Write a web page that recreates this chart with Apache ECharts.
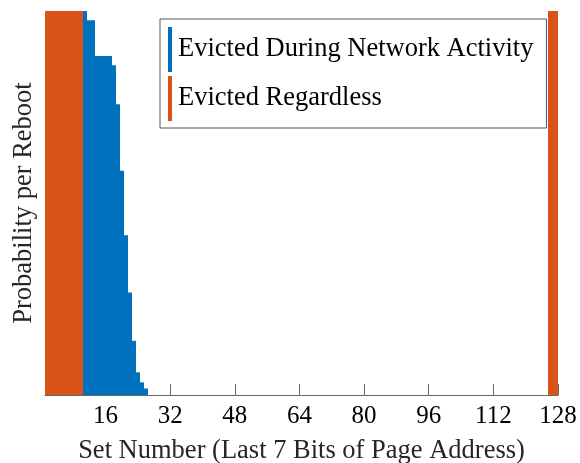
<!DOCTYPE html>
<html>
<head>
<meta charset="utf-8">
<script src="https://cdn.jsdelivr.net/npm/echarts@6/dist/echarts.min.js"></script>
<style>
html,body{margin:0;padding:0;background:#fff;}
#chart{width:580px;height:463px;}
</style>
</head>
<body>
<div id="chart"></div>
<script>
// Data
const blueSets = [11, 12, 13, 14, 15, 16, 17, 18, 19, 20, 21, 22, 23, 24, 25, 26];
const blueValues = [1.0, 0.976, 0.976, 0.883, 0.883, 0.883, 0.883, 0.859, 0.757, 0.584, 0.416, 0.267, 0.141, 0.059, 0.033, 0.017];
const orangeSets = [1, 2, 3, 4, 5, 6, 7, 8, 9, 10, 126, 127, 128];
const orangeValues = [1, 1, 1, 1, 1, 1, 1, 1, 1, 1, 1, 1, 1];
const xTicks = [16, 32, 48, 64, 80, 96, 112, 128];
const seriesNames = ['Evicted During Network Activity', 'Evicted Regardless'];

const FONT = '"Liberation Serif", "Times New Roman", serif';

function renderBar(params, api) {
  const x = api.value(0), y = api.value(1);
  const p0 = api.coord([x - 0.5, y]);
  const p1 = api.coord([x + 0.5, 0]);
  const cs = params.coordSys;
  const x0 = Math.round(p0[0]), x1 = Math.round(p1[0]);
  const r = echarts.graphic.clipRectByRect(
    {x: x0, y: p0[1], width: x1 - x0, height: p1[1] - p0[1]},
    {x: cs.x, y: cs.y, width: cs.width, height: cs.height}
  );
  if (!r) return null;
  return {type: 'rect', shape: r, style: {fill: api.visual('color'), stroke: null}};
}

const chart = echarts.init(document.getElementById('chart'), null, {renderer: 'canvas'});
chart.setOption({
  animation: false,
  backgroundColor: '#fff',
  grid: {left: 45, right: 22, top: 11, bottom: 68, containLabel: false, outerBoundsMode: 'none'},
  legend: {
    orient: 'vertical',
    left: 160, top: 19,
    padding: [8, 13, 7, 8],
    itemGap: 4,
    itemWidth: 4, itemHeight: 45,
    borderColor: '#555', borderWidth: 1,
    backgroundColor: '#fff',
    textStyle: {fontSize: 26.5, fontFamily: FONT, color: '#000', padding: [0, 0, 0, 1]},
    data: [{name: seriesNames[0], icon: 'rect'}, {name: seriesNames[1], icon: 'rect'}]
  },
  xAxis: {
    type: 'value', min: 1, max: 128,
    name: 'Set Number (Last 7 Bits of Page Address)',
    nameLocation: 'middle', nameGap: 43,
    nameTextStyle: {fontSize: 26.5, fontFamily: FONT, color: '#262626'},
    axisLine: {lineStyle: {color: '#666', width: 1}},
    axisTick: {inside: true, length: 11, customValues: xTicks, lineStyle: {color: '#666'}},
    axisLabel: {customValues: xTicks, fontSize: 25, fontFamily: FONT, color: '#000', margin: 9},
    splitLine: {show: false}
  },
  yAxis: {
    type: 'value', min: 0, max: 1,
    name: 'Probability per Reboot',
    nameLocation: 'middle', nameGap: 7,
    nameTextStyle: {fontSize: 26.5, fontFamily: FONT, color: '#262626'},
    axisLine: {show: false}, axisTick: {show: false}, axisLabel: {show: false},
    splitLine: {show: false}
  },
  series: [
    {
      name: seriesNames[0], type: 'custom', renderItem: renderBar, clip: true,
      itemStyle: {color: '#0072BD'},
      data: blueSets.map((s, i) => [s, blueValues[i]])
    },
    {
      name: seriesNames[1], type: 'custom', renderItem: renderBar, clip: true,
      itemStyle: {color: '#D95319'},
      data: orangeSets.map((s, i) => [s, orangeValues[i]])
    }
  ]
});
</script>
</body>
</html>
